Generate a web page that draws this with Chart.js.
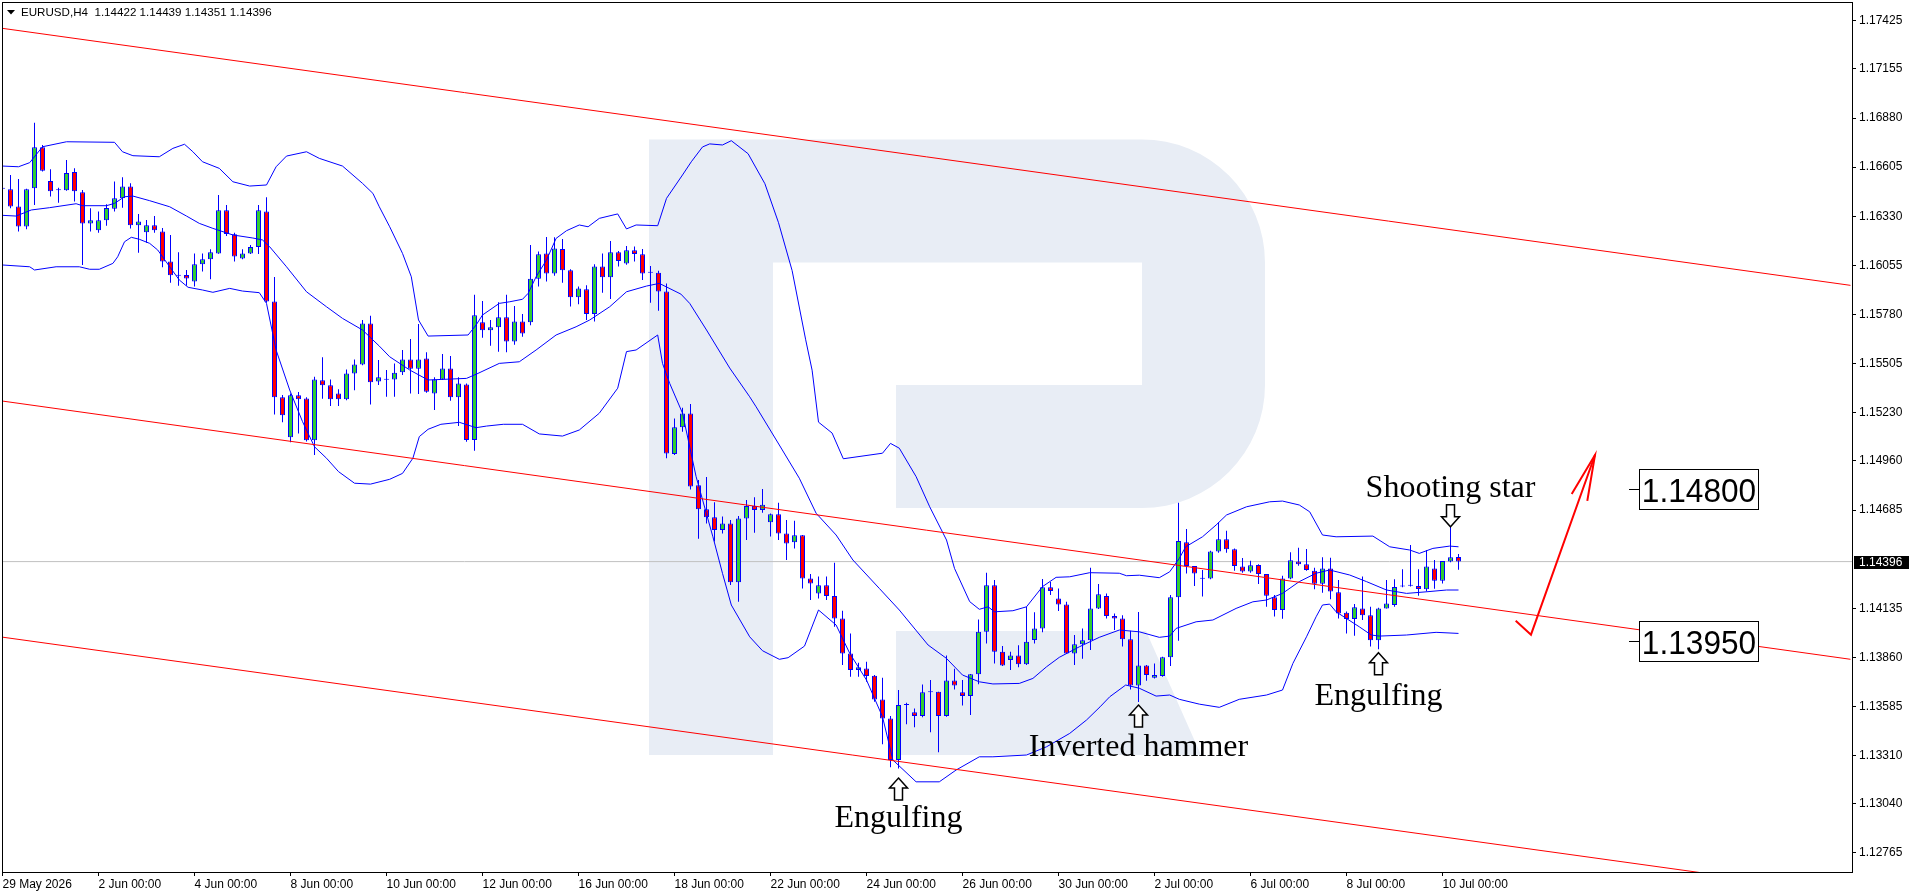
<!DOCTYPE html>
<html>
<head>
<meta charset="utf-8">
<title>EURUSD,H4</title>
<script src="https://cdn.jsdelivr.net/npm/chart.js@4.4.1/dist/chart.umd.min.js"></script>
<style>
  html, body { margin: 0; padding: 0; background: #ffffff; overflow: hidden; }
  canvas { display: block; }
</style>
</head>
<body>
<canvas id="chart" width="1916" height="896"></canvas>
<script>
// H4 bars, index 0 = 29 May 2026 00:00 (6 bars per trading day)
var opens = [
  1.16484, 1.16481, 1.16385, 1.16273, 1.16486, 1.16716, 1.16527, 1.16475, 1.16475, 1.16578,
  1.16464, 1.16290, 1.16251, 1.16307, 1.16372, 1.16430, 1.16497, 1.16279, 1.16240, 1.16279,
  1.16245, 1.16077, 1.15997, 1.16001, 1.15964, 1.16061, 1.16089, 1.16122, 1.16363, 1.16229,
  1.16094, 1.16122, 1.16158, 1.16357, 1.15853, 1.15316, 1.15092, 1.15327, 1.15310, 1.15075,
  1.15411, 1.15383, 1.15338, 1.15305, 1.15450, 1.15500, 1.15730, 1.15405, 1.15414, 1.15416,
  1.15456, 1.15528, 1.15476, 1.15534, 1.15338, 1.15416, 1.15478, 1.15316, 1.15388, 1.15077,
  1.15736, 1.15691, 1.15708, 1.15764, 1.15629, 1.15741, 1.15736, 1.15980, 1.16122, 1.16010,
  1.16146, 1.16027, 1.15876, 1.15921, 1.15782, 1.16049, 1.15988, 1.16128, 1.16066, 1.16139,
  1.16117, 1.16014, 1.16014, 1.15909, 1.14998, 1.15148, 1.15226, 1.14823, 1.14689, 1.14644,
  1.14573, 1.14610, 1.14280, 1.14638, 1.14707, 1.14685, 1.14616, 1.14661, 1.14554, 1.14504,
  1.14543, 1.14302, 1.14218, 1.14263, 1.14203, 1.14078, 1.13882, 1.13789, 1.13798, 1.13757,
  1.13624, 1.13518, 1.13285, 1.13593, 1.13552, 1.13531, 1.13667, 1.13667, 1.13531, 1.13731,
  1.13664, 1.13643, 1.13765, 1.14003, 1.14263, 1.13891, 1.13845, 1.13871, 1.13822, 1.13957,
  1.14022, 1.14252, 1.14190, 1.14156, 1.13882, 1.13933, 1.13955, 1.14134, 1.14203, 1.14091,
  1.14078, 1.13961, 1.13703, 1.13815, 1.13746, 1.13755, 1.13860, 1.14196, 1.14504, 1.14371,
  1.14300, 1.14302, 1.14452, 1.14521, 1.14465, 1.14369, 1.14340, 1.14377, 1.14326, 1.14196,
  1.14125, 1.14302, 1.14397, 1.14381, 1.14345, 1.14272, 1.14358, 1.14224, 1.14110, 1.14075,
  1.14134, 1.14095, 1.13955, 1.14134, 1.14153, 1.14256, 1.14261, 1.14259, 1.14241, 1.14358,
  1.14289, 1.14396, 1.14422
];
var highs = [
  1.16550, 1.16561, 1.16539, 1.16484, 1.16854, 1.16729, 1.16593, 1.16490, 1.16645, 1.16598,
  1.16477, 1.16374, 1.16356, 1.16397, 1.16524, 1.16548, 1.16514, 1.16342, 1.16309, 1.16331,
  1.16264, 1.16225, 1.16128, 1.16029, 1.16122, 1.16122, 1.16145, 1.16449, 1.16393, 1.16238,
  1.16145, 1.16169, 1.16393, 1.16436, 1.15990, 1.15329, 1.15338, 1.15346, 1.15316, 1.15431,
  1.15540, 1.15416, 1.15361, 1.15472, 1.15528, 1.15749, 1.15773, 1.15525, 1.15469, 1.15506,
  1.15581, 1.15642, 1.15726, 1.15569, 1.15428, 1.15558, 1.15547, 1.15428, 1.15394, 1.15891,
  1.15855, 1.15749, 1.15848, 1.15891, 1.15827, 1.15782, 1.16169, 1.16132, 1.16214, 1.16212,
  1.16202, 1.16033, 1.15936, 1.15943, 1.16061, 1.16122, 1.16191, 1.16135, 1.16163, 1.16160,
  1.16146, 1.16051, 1.16025, 1.15954, 1.15198, 1.15258, 1.15279, 1.14853, 1.14870, 1.14728,
  1.14648, 1.14629, 1.14651, 1.14741, 1.14756, 1.14803, 1.14666, 1.14726, 1.14629, 1.14625,
  1.14545, 1.14327, 1.14312, 1.14312, 1.14390, 1.14121, 1.13994, 1.13830, 1.13835, 1.13761,
  1.13746, 1.13531, 1.13677, 1.13606, 1.13574, 1.13708, 1.13733, 1.13668, 1.13871, 1.13796,
  1.13733, 1.13767, 1.14072, 1.14334, 1.14293, 1.13923, 1.13891, 1.13927, 1.14143, 1.14112,
  1.14298, 1.14282, 1.14246, 1.14171, 1.13985, 1.14022, 1.14362, 1.14270, 1.14218, 1.14106,
  1.14095, 1.14009, 1.14114, 1.13817, 1.13826, 1.13863, 1.14209, 1.14726, 1.14579, 1.14372,
  1.14349, 1.14457, 1.14616, 1.14569, 1.14470, 1.14416, 1.14401, 1.14381, 1.14327, 1.14209,
  1.14317, 1.14448, 1.14474, 1.14466, 1.14362, 1.14420, 1.14418, 1.14293, 1.14116, 1.14158,
  1.14312, 1.14143, 1.14138, 1.14293, 1.14297, 1.14353, 1.14489, 1.14353, 1.14461, 1.14405,
  1.14400, 1.14592, 1.14439
];
var lows = [
  1.16466, 1.16374, 1.16244, 1.16257, 1.16393, 1.16580, 1.16440, 1.16406, 1.16472, 1.16412,
  1.16057, 1.16244, 1.16238, 1.16277, 1.16356, 1.16378, 1.16262, 1.16126, 1.16182, 1.16238,
  1.16044, 1.15958, 1.15941, 1.15941, 1.15936, 1.16020, 1.15977, 1.16120, 1.16219, 1.16076,
  1.16089, 1.16118, 1.16118, 1.15846, 1.15220, 1.15176, 1.15064, 1.15114, 1.15068, 1.14993,
  1.15308, 1.15267, 1.15267, 1.15299, 1.15355, 1.15495, 1.15276, 1.15385, 1.15319, 1.15319,
  1.15441, 1.15338, 1.15334, 1.15342, 1.15245, 1.15413, 1.15297, 1.15155, 1.15067, 1.15017,
  1.15650, 1.15605, 1.15571, 1.15568, 1.15611, 1.15655, 1.15719, 1.15936, 1.15964, 1.15997,
  1.15958, 1.15824, 1.15837, 1.15749, 1.15740, 1.15902, 1.15866, 1.16048, 1.16059, 1.16076,
  1.15973, 1.15846, 1.15801, 1.14975, 1.14993, 1.15123, 1.14800, 1.14524, 1.14610, 1.14508,
  1.14554, 1.14265, 1.14171, 1.14517, 1.14558, 1.14670, 1.14536, 1.14517, 1.14405, 1.14470,
  1.14246, 1.14181, 1.14190, 1.14181, 1.14031, 1.13817, 1.13751, 1.13751, 1.13723, 1.13611,
  1.13374, 1.13244, 1.13238, 1.13486, 1.13468, 1.13524, 1.13440, 1.13328, 1.13528, 1.13680,
  1.13591, 1.13537, 1.13710, 1.13938, 1.13826, 1.13811, 1.13789, 1.13804, 1.13817, 1.13938,
  1.14000, 1.14209, 1.14119, 1.13878, 1.13817, 1.13852, 1.13901, 1.14130, 1.14078, 1.14013,
  1.13920, 1.13680, 1.13610, 1.13729, 1.13742, 1.13751, 1.13811, 1.13953, 1.14330, 1.14259,
  1.14200, 1.14297, 1.14446, 1.14446, 1.14345, 1.14334, 1.14334, 1.14270, 1.14143, 1.14088,
  1.14076, 1.14297, 1.14373, 1.14345, 1.14241, 1.14222, 1.14185, 1.14078, 1.13994, 1.13981,
  1.14069, 1.13920, 1.13905, 1.14133, 1.14143, 1.14252, 1.14256, 1.14205, 1.14228, 1.14244,
  1.14274, 1.14392, 1.14351
];
var closes = [
  1.16486, 1.16384, 1.16273, 1.16481, 1.16716, 1.16585, 1.16470, 1.16476, 1.16572, 1.16470,
  1.16290, 1.16307, 1.16307, 1.16376, 1.16430, 1.16497, 1.16279, 1.16301, 1.16279, 1.16251,
  1.16077, 1.15999, 1.15998, 1.15982, 1.16061, 1.16089, 1.16128, 1.16363, 1.16230, 1.16105,
  1.16122, 1.16158, 1.16363, 1.15853, 1.15316, 1.15215, 1.15327, 1.15305, 1.15075, 1.15416,
  1.15383, 1.15305, 1.15305, 1.15450, 1.15500, 1.15730, 1.15400, 1.15428, 1.15416, 1.15454,
  1.15528, 1.15476, 1.15528, 1.15347, 1.15416, 1.15478, 1.15316, 1.15394, 1.15077, 1.15775,
  1.15691, 1.15708, 1.15764, 1.15629, 1.15741, 1.15674, 1.15980, 1.16117, 1.16010, 1.16150,
  1.16027, 1.15876, 1.15926, 1.15782, 1.16049, 1.15988, 1.16128, 1.16079, 1.16139, 1.16118,
  1.16010, 1.16013, 1.15909, 1.15002, 1.15148, 1.15226, 1.14816, 1.14689, 1.14644, 1.14573,
  1.14610, 1.14280, 1.14638, 1.14707, 1.14685, 1.14715, 1.14661, 1.14554, 1.14498, 1.14543,
  1.14302, 1.14274, 1.14263, 1.14203, 1.14078, 1.13882, 1.13789, 1.13804, 1.13755, 1.13624,
  1.13518, 1.13285, 1.13593, 1.13595, 1.13531, 1.13664, 1.13665, 1.13531, 1.13731, 1.13703,
  1.13643, 1.13765, 1.14003, 1.14263, 1.13891, 1.13815, 1.13871, 1.13822, 1.13947, 1.14022,
  1.14252, 1.14231, 1.14156, 1.13882, 1.13933, 1.13955, 1.14134, 1.14213, 1.14091, 1.14078,
  1.13961, 1.13703, 1.13815, 1.13761, 1.13761, 1.13860, 1.14196, 1.14511, 1.14371, 1.14330,
  1.14301, 1.14452, 1.14521, 1.14465, 1.14371, 1.14341, 1.14375, 1.14326, 1.14205, 1.14125,
  1.14302, 1.14403, 1.14381, 1.14349, 1.14272, 1.14358, 1.14228, 1.14106, 1.14075, 1.14140,
  1.14095, 1.13955, 1.14134, 1.14162, 1.14254, 1.14259, 1.14263, 1.14242, 1.14368, 1.14289,
  1.14399, 1.14420, 1.14396
];

// Bollinger bands: [bar, price]
var upperBand = [
  [0, 1.16611], [2, 1.16607], [3.4, 1.16630], [5, 1.16719], [8, 1.16747], [14, 1.16744], [15, 1.16691],
  [16.3, 1.16669], [19.6, 1.16663], [21.3, 1.16710], [22.75, 1.16733], [23.8, 1.16691], [25, 1.16635],
  [27.1, 1.16598], [28.8, 1.16523], [30.9, 1.16499], [33, 1.16505], [34.2, 1.16607], [35.5, 1.16667],
  [38, 1.16691], [39.6, 1.16654], [42.5, 1.16611], [45, 1.16514], [46.3, 1.16458], [47.1, 1.16383],
  [48.4, 1.16271], [50, 1.16122], [51.1, 1.15991], [52, 1.15749], [53.2, 1.15659], [58.2, 1.15665],
  [59.2, 1.15721], [60, 1.15777], [62.1, 1.15842], [63.4, 1.15851], [65, 1.15865], [65.7, 1.15898],
  [66.7, 1.15991], [68, 1.16085], [69.2, 1.16206], [70.5, 1.16249], [72.1, 1.16281], [73.2, 1.16271],
  [74.6, 1.16318], [76.9, 1.16343], [78, 1.16259], [79.2, 1.16281], [81.9, 1.16277], [83, 1.16430],
  [85, 1.16561], [86.1, 1.16635], [87.5, 1.16718], [88.4, 1.16735], [90, 1.16729], [91.1, 1.16753],
  [93.2, 1.16680], [95.3, 1.16512], [97, 1.16294], [98.7, 1.16026], [100.4, 1.15638], [101.2, 1.15468],
  [102, 1.15177], [103.7, 1.15116], [105.1, 1.14972], [110, 1.15003], [111, 1.15058], [112.1, 1.15031],
  [114.2, 1.14872], [115.9, 1.14703], [118, 1.14517], [119, 1.14358], [120.9, 1.14172], [122.1, 1.14129],
  [123.2, 1.14143], [124, 1.14115], [126.3, 1.14121], [128, 1.14143], [130, 1.14256], [131.7, 1.14308],
  [133.4, 1.14311], [135.9, 1.14334], [139.6, 1.14331], [140.5, 1.14317], [142.1, 1.14320], [144.6, 1.14306],
  [145.9, 1.14339], [147.1, 1.14414], [147.9, 1.14479], [150, 1.14535], [151.7, 1.14601], [153, 1.14657],
  [155.5, 1.14703], [158.4, 1.14731], [160, 1.14735], [162.1, 1.14713], [163.4, 1.14675], [165, 1.14545],
  [166.7, 1.14535], [171.3, 1.14539], [173.4, 1.14479], [175.9, 1.14461], [177.1, 1.14442], [178.8, 1.14470],
  [180.9, 1.14483], [182, 1.14479]
];
var middleBand = [
  [0, 1.16335], [1.7, 1.16331], [3.6, 1.16365], [5.9, 1.16378], [9.2, 1.16400], [10, 1.16389], [13, 1.16389],
  [14, 1.16402], [15.25, 1.16439], [16.3, 1.16443], [18.4, 1.16417], [20.9, 1.16383], [23, 1.16331],
  [24.6, 1.16290], [26.3, 1.16262], [28.8, 1.16225], [31.3, 1.16208], [32.5, 1.16197], [33.4, 1.16159],
  [35.5, 1.16047], [38, 1.15907], [40.5, 1.15823], [42.5, 1.15758], [45, 1.15693], [47.1, 1.15603],
  [48.4, 1.15543], [50.9, 1.15469], [53.2, 1.15413], [58, 1.15422], [59.2, 1.15445], [62.1, 1.15506],
  [64.6, 1.15515], [66.7, 1.15581], [69.2, 1.15665], [71.7, 1.15711], [73.4, 1.15749], [75.9, 1.15823],
  [78, 1.15907], [80.5, 1.15939], [82.1, 1.15954], [84.8, 1.15894], [85.9, 1.15842], [88, 1.15693],
  [90.9, 1.15480], [93.4, 1.15319], [94.2, 1.15263], [97.1, 1.15049], [99.6, 1.14863], [101.7, 1.14667],
  [104.2, 1.14545], [106.3, 1.14405], [109.6, 1.14246], [112.1, 1.14125], [115.7, 1.13929], [118, 1.13854],
  [120, 1.13761], [122.1, 1.13723], [123.8, 1.13711], [127.1, 1.13714], [128.8, 1.13742], [130.5, 1.13807],
  [132.1, 1.13860], [134.6, 1.13919], [137.1, 1.13972], [139.6, 1.14013], [142.1, 1.14003], [144.6, 1.13972],
  [145.9, 1.13979], [146.7, 1.14022], [149.2, 1.14059], [151.3, 1.14069], [154.2, 1.14134], [156.3, 1.14171],
  [158, 1.14181], [160, 1.14218], [162.1, 1.14284], [164.2, 1.14331], [165.9, 1.14349], [168.4, 1.14321],
  [170.5, 1.14284], [173, 1.14237], [175.5, 1.14218], [178, 1.14227], [180.5, 1.14237], [182, 1.14237]
];
var lowerBand = [
  [0, 1.16057], [3.4, 1.16047], [4, 1.16029], [6.7, 1.16047], [9.6, 1.16047], [10.9, 1.16033], [12.1, 1.16033],
  [13.8, 1.16066], [14.4, 1.16103], [15.25, 1.16187], [16.1, 1.16212], [17.1, 1.16201], [18.4, 1.16178],
  [19.4, 1.16141], [20.9, 1.16047], [22.1, 1.15973], [23.2, 1.15932], [25, 1.15917], [26.3, 1.15904],
  [28.4, 1.15926], [30, 1.15911], [32.1, 1.15902], [33, 1.15842], [34.2, 1.15581], [35.9, 1.15357],
  [37.5, 1.15180], [39, 1.15039], [40.5, 1.14975], [42, 1.14900], [44, 1.14835], [46, 1.14830],
  [48.4, 1.14857], [50, 1.14890], [51.3, 1.14975], [52.1, 1.15096], [53.2, 1.15137], [54.8, 1.15165],
  [57.1, 1.15176], [59.2, 1.15146], [60.5, 1.15155], [62.6, 1.15165], [65, 1.15165], [67.1, 1.15111],
  [70, 1.15099], [72.1, 1.15133], [74.6, 1.15227], [76.9, 1.15367], [78, 1.15572], [79.2, 1.15581],
  [81.9, 1.15665], [82.5, 1.15506], [83.4, 1.15394], [85, 1.15227], [86.7, 1.14872], [88.8, 1.14535],
  [90, 1.14330], [91.1, 1.14153], [93.4, 1.13975], [95, 1.13897], [97.1, 1.13849], [98.2, 1.13858],
  [100.25, 1.13923], [102, 1.14125], [104.2, 1.14041], [105.9, 1.13883], [108, 1.13733], [110, 1.13527],
  [111.3, 1.13285], [114.2, 1.13163], [117.1, 1.13163], [119.2, 1.13229], [122.1, 1.13303], [123.8, 1.13303],
  [128, 1.13313], [130.5, 1.13359], [133.4, 1.13434], [135.5, 1.13509], [137.2, 1.13583], [138.4, 1.13639],
  [140.4, 1.13705], [142.1, 1.13687], [144.2, 1.13643], [145.9, 1.13649], [147.1, 1.13625], [149.6, 1.13598],
  [152.1, 1.13580], [154.6, 1.13625], [158, 1.13649], [160, 1.13677], [161.3, 1.13826], [163, 1.13975],
  [164.2, 1.14087], [165, 1.14153], [165.9, 1.14158], [166.7, 1.14115], [169.6, 1.14031], [171.1, 1.13985],
  [172.1, 1.13979], [175.5, 1.13985], [179.2, 1.14000], [182, 1.13994]
];

// descending price channel, two points per line
var channelTop = [[0, 1.17382], [231, 1.15943]];
var channelMid = [[0, 1.15295], [231, 1.13849]];
var channelLow = [[0, 1.13973], [231, 1.12538]];

// hand-drawn forecast arrow
var forecastPath = [[189.15, 1.14065], [191.06, 1.13987], [199.06, 1.14993]];
var forecastHead = [[196.15, 1.14775], [199.06, 1.14993], [198.1, 1.14736]];

// candle pattern notes
var signalLabels = ['Engulfing', 'Inverted hammer', 'Engulfing', 'Shooting star'];
var signalBars = [112, 142, 172, 181];
var signalTextPrices = [1.12909, 1.13307, 1.13592, 1.14760];
var signalArrowPrices = [1.13184, 1.13593, 1.13886, 1.14591];
var signalDirections = ['up', 'up', 'up', 'down'];

// target levels
var levelValues = [1.14800, 1.13950];
var levelBar = 204.5;

// axes
var xTickBars = [0, 12, 24, 36, 48, 60, 72, 84, 96, 108, 120, 132, 144, 156, 168, 180];
var xTickLabels = ['29 May 2026', '2 Jun 00:00', '4 Jun 00:00', '8 Jun 00:00', '10 Jun 00:00', '12 Jun 00:00',
  '16 Jun 00:00', '18 Jun 00:00', '22 Jun 00:00', '24 Jun 00:00', '26 Jun 00:00', '30 Jun 00:00',
  '2 Jul 00:00', '6 Jul 00:00', '8 Jul 00:00', '10 Jul 00:00'];
var yTickValues = [1.17425, 1.17155, 1.16880, 1.16605, 1.16330, 1.16055, 1.15780, 1.15505, 1.15230,
  1.14960, 1.14685, 1.14135, 1.13860, 1.13585, 1.13310, 1.13040, 1.12765];

var xMin = -0.0625, xMax = 231.1875;
var yMin = 1.12658, yMax = 1.17524;

function toPoints(list) {
    return list.map(function (p) { return { x: p[0], y: p[1] }; });
}

var last = closes.length - 1;
var wickData = [], bodyData = [], bodyColors = [];
for (var i = 0; i < closes.length; i++) {
    wickData.push({ x: i, y: [lows[i], highs[i]] });
    bodyData.push({ x: i, y: [opens[i], closes[i]] });
    bodyColors.push(closes[i] >= opens[i] ? '#32cd32' : '#ff0000');
}

function lineSet(points, color, width, order) {
    return {
        type: 'line',
        data: points,
        borderColor: color,
        borderWidth: width,
        pointRadius: 0,
        fill: false,
        tension: 0,
        order: order
    };
}

function drawArrow(ctx, x, tipY, dir) {
    var s = dir === 'up' ? 1 : -1;
    ctx.beginPath();
    ctx.moveTo(x, tipY);
    ctx.lineTo(x + 9, tipY + s * 10);
    ctx.lineTo(x + 4, tipY + s * 10);
    ctx.lineTo(x + 4, tipY + s * 22);
    ctx.lineTo(x - 4, tipY + s * 22);
    ctx.lineTo(x - 4, tipY + s * 10);
    ctx.lineTo(x - 9, tipY + s * 10);
    ctx.closePath();
    ctx.fillStyle = '#ffffff';
    ctx.fill();
    ctx.lineWidth = 1.5;
    ctx.strokeStyle = '#000000';
    ctx.stroke();
}

var chartDecor = {
    id: 'chartDecor',
    beforeDatasetsDraw: function (chart) {
        // light "R" watermark behind the bars
        var ctx = chart.ctx, a = chart.chartArea;
        var L = a.left, T = a.top;
        ctx.save();
        ctx.beginPath();
        ctx.rect(a.left, a.top, a.right - a.left, a.bottom - a.top);
        ctx.clip();
        ctx.fillStyle = '#e8edf5';
        ctx.fillRect(L + 647, T + 136.5, 124, 615.5);
        ctx.fillRect(L + 771, T + 136.5, 369, 123);
        ctx.beginPath();
        ctx.moveTo(L + 1140, T + 136.5);
        ctx.arc(L + 1140, T + 259.5, 123, -Math.PI / 2, 0);
        ctx.lineTo(L + 1263, T + 382);
        ctx.arc(L + 1140, T + 382, 123, 0, Math.PI / 2);
        ctx.lineTo(L + 894, T + 505);
        ctx.lineTo(L + 894, T + 382);
        ctx.lineTo(L + 1140, T + 382);
        ctx.closePath();
        ctx.fill();
        ctx.beginPath();
        ctx.moveTo(L + 894, T + 628);
        ctx.lineTo(L + 1144, T + 628);
        ctx.lineTo(L + 1199, T + 752);
        ctx.lineTo(L + 894, T + 752);
        ctx.closePath();
        ctx.fill();
        ctx.restore();
    },
    afterDatasetsDraw: function (chart) {
        var ctx = chart.ctx;
        var xS = chart.scales.x, yS = chart.scales.y;
        ctx.save();

        // pattern arrows and captions
        signalLabels.forEach(function (label, k) {
            var x = xS.getPixelForValue(signalBars[k]);
            drawArrow(ctx, x, yS.getPixelForValue(signalArrowPrices[k]), signalDirections[k]);
            ctx.fillStyle = '#000000';
            ctx.font = '32px "Liberation Serif"';
            ctx.textAlign = 'center';
            ctx.textBaseline = 'alphabetic';
            ctx.fillText(label, x, yS.getPixelForValue(signalTextPrices[k]));
        });

        // level boxes
        levelValues.forEach(function (v) {
            var y = Math.round(yS.getPixelForValue(v));
            var x0 = Math.round(xS.getPixelForValue(levelBar));
            ctx.strokeStyle = '#000000';
            ctx.lineWidth = 1;
            ctx.beginPath();
            ctx.moveTo(x0 - 10, y + 0.5);
            ctx.lineTo(x0, y + 0.5);
            ctx.stroke();
            ctx.fillStyle = '#ffffff';
            ctx.fillRect(x0, y - 20, 119, 40);
            ctx.strokeRect(x0 + 0.5, y - 19.5, 119, 40);
            ctx.save();
            ctx.translate(x0 + 60, y + 12.5);
            ctx.scale(0.93, 1);
            ctx.fillStyle = '#000000';
            ctx.font = '34px "Liberation Sans"';
            ctx.textAlign = 'center';
            ctx.textBaseline = 'alphabetic';
            ctx.fillText(v.toFixed(5), 0, 0);
            ctx.restore();
        });
        ctx.restore();
    },
    afterDraw: function (chart) {
        var ctx = chart.ctx, a = chart.chartArea;
        var yS = chart.scales.y;
        ctx.save();
        ctx.strokeStyle = '#000000';
        ctx.lineWidth = 1;
        ctx.strokeRect(a.left + 0.5, a.top - 0.5, a.right - a.left, a.bottom - a.top + 1);

        // symbol header
        ctx.fillStyle = '#000000';
        ctx.beginPath();
        ctx.moveTo(a.left + 5, a.top + 7);
        ctx.lineTo(a.left + 13, a.top + 7);
        ctx.lineTo(a.left + 9, a.top + 11.5);
        ctx.closePath();
        ctx.fill();
        ctx.font = '11.6px "Liberation Sans"';
        ctx.textAlign = 'left';
        ctx.textBaseline = 'middle';
        var ohlc = [opens[last], highs[last], lows[last], closes[last]].map(function (v) { return v.toFixed(5); });
        ctx.fillText('EURUSD,H4  ' + ohlc.join(' '), a.left + 19, a.top + 9.5);

        // current price marker on the axis
        var y = Math.round(yS.getPixelForValue(closes[last]));
        ctx.fillStyle = '#000000';
        ctx.fillRect(a.right + 2, y - 6, 55, 13);
        ctx.fillStyle = '#ffffff';
        ctx.font = '12px "Liberation Sans"';
        ctx.fillText(closes[last].toFixed(5), a.right + 7, y + 0.5);
        ctx.restore();
    }
};

Chart.defaults.font.family = '"Liberation Sans", Arial, sans-serif';
Chart.defaults.font.size = 12;
Chart.defaults.color = '#000000';

new Chart(document.getElementById('chart'), {
    type: 'bar',
    data: {
        datasets: [
            lineSet(toPoints(forecastPath), '#ff0000', 2, 0),
            lineSet(toPoints(forecastHead), '#ff0000', 2, 0),
            lineSet(toPoints(channelTop), '#ff0000', 1, 1),
            lineSet(toPoints(channelMid), '#ff0000', 1, 1),
            lineSet(toPoints(channelLow), '#ff0000', 1, 1),
            lineSet(toPoints(upperBand), '#0000ff', 1, 2),
            lineSet(toPoints(middleBand), '#0000ff', 1, 2),
            lineSet(toPoints(lowerBand), '#0000ff', 1, 2),
            {
                type: 'bar',
                data: bodyData,
                backgroundColor: bodyColors,
                borderColor: '#0000ff',
                borderWidth: 1,
                borderSkipped: false,
                barThickness: 5,
                minBarLength: 1,
                inflateAmount: 0,
                grouped: false,
                order: 3
            },
            {
                type: 'bar',
                data: wickData,
                backgroundColor: '#0000ff',
                borderWidth: 0,
                barThickness: 1,
                inflateAmount: 0,
                grouped: false,
                order: 4
            },
            lineSet([{ x: xMin, y: closes[last] }, { x: xMax, y: closes[last] }], '#c0c0c0', 1, 5)
        ]
    },
    options: {
        responsive: false,
        animation: false,
        devicePixelRatio: 1,
        layout: { padding: { left: 2, top: 3, right: 0, bottom: 0 } },
        plugins: {
            legend: { display: false },
            tooltip: { enabled: false }
        },
        scales: {
            x: {
                type: 'linear',
                min: xMin,
                max: xMax,
                offset: false,
                grid: { display: true, drawOnChartArea: false, drawTicks: true, tickLength: 4, color: '#000000', offset: false },
                border: { display: true, color: '#000000', width: 1 },
                afterBuildTicks: function (scale) {
                    scale.ticks = xTickBars.map(function (v) { return { value: v }; });
                },
                afterFit: function (scale) {
                    scale.height = 24;
                    scale.paddingLeft = 0;
                    scale.paddingRight = 0;
                },
                ticks: {
                    autoSkip: false,
                    maxRotation: 0,
                    align: 'start',
                    padding: 1,
                    callback: function (value, index) { return xTickLabels[index]; }
                }
            },
            y: {
                type: 'linear',
                position: 'right',
                min: yMin,
                max: yMax,
                beginAtZero: false,
                grid: { display: true, drawOnChartArea: false, drawTicks: true, tickLength: 4, color: '#000000' },
                border: { display: true, color: '#000000', width: 1 },
                afterBuildTicks: function (scale) {
                    scale.ticks = yTickValues.map(function (v) { return { value: v }; });
                },
                afterFit: function (scale) {
                    scale.width = 64;
                    scale.paddingTop = 0;
                    scale.paddingBottom = 0;
                },
                ticks: {
                    autoSkip: false,
                    padding: 3,
                    callback: function (value) { return value.toFixed(5); }
                }
            }
        }
    },
    plugins: [chartDecor]
});
</script>
</body>
</html>
